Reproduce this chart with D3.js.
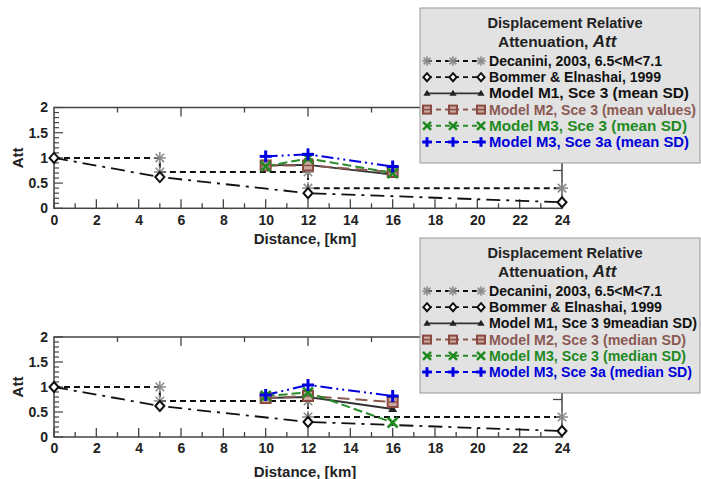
<!DOCTYPE html>
<html><head><meta charset="utf-8">
<script src="https://cdn.jsdelivr.net/npm/d3@7"></script>
<style>body{margin:0;background:#fff}svg{display:block;font-family:"Liberation Sans",Arial,sans-serif;font-weight:bold}</style>
</head><body><svg id="c" width="701" height="479"></svg>
<script>
// ---- data ----
const xTicks = [0,2,4,6,8,10,12,14,16,18,20,22,24];
const yTicks = [0,0.5,1,1.5,2];
const yTickLabels = ["0","0.5","1","1.5","2"];
const decaniniX = [0,5,5,12,12,24];
const decaniniY = [1,1,0.72,0.72,0.4,0.4];
const bommerX = [0,5,12,24];
const bommerY = [1,0.62,0.3,0.12];
const modelX = [10,12,16];
// top panel (mean)
const m1Top = [0.85,0.86,0.67];
const m2Top = [0.85,0.85,0.72];
const m3Top = [0.83,0.99,0.70];
const m3aTop = [1.03,1.07,0.83];
// bottom panel (median)
const m1Bot = [0.78,0.80,0.56];
const m2Bot = [0.78,0.82,0.70];
const m3Bot = [0.82,0.89,0.29];
const m3aBot = [0.84,1.04,0.82];
const legendTitle = ["Displacement Relative","Attenuation, "];
const legendTop = ["Decanini, 2003, 6.5<M<7.1","Bommer & Elnashai, 1999","Model M1, Sce 3 (mean SD)","Model M2, Sce 3 (mean values)","Model M3, Sce 3 (mean SD)","Model M3, Sce 3a (mean SD)"];
const legendBot = ["Decanini, 2003, 6.5<M<7.1","Bommer & Elnashai, 1999","Model M1, Sce 3 9meadian SD)","Model M2, Sce 3 (median SD)","Model M3, Sce 3 (median SD)","Model M3, Sce 3a (median SD)"];
const legendTopW = [173,172,200,207,198,200];
const legendBotW = [173,173,208,197,197,203];

const styles = [
  {stroke:"#111", dash:"6,4", w:2, marker:"star", mc:"#888", text:"#111"},
  {stroke:"#111", dash:"14,6,3,6", w:1.8, marker:"diamond", mc:"#111", text:"#111"},
  {stroke:"#333", dash:null, w:1.8, marker:"tri", mc:"#222", text:"#111"},
  {stroke:"#8a5a52", dash:"12,6", w:2, marker:"square", mc:"#8a4a40", text:"#8a5a52"},
  {stroke:"#2a8a2a", dash:"9,4", w:2, marker:"x", mc:"#1f8a1f", text:"#1f8a1f"},
  {stroke:"#0000e0", dash:"12,4,2,4,2,4", w:2, marker:"plus", mc:"#0000e0", text:"#0000d8"}
];

const svg = d3.select("#c");
svg.append("rect").attr("width",701).attr("height",479).attr("fill","#fff");

function marker(g, type, cx, cy, color, k){
  const s = 5*(k||1);
  if(type==="star"){
    const p = g.append("g").attr("stroke",color).attr("stroke-width",1.5);
    for(let a=0;a<4;a++){const ang=a*Math.PI/4;
      p.append("line").attr("x1",cx-s*Math.cos(ang)*1.2).attr("y1",cy-s*Math.sin(ang)*1.2)
       .attr("x2",cx+s*Math.cos(ang)*1.2).attr("y2",cy+s*Math.sin(ang)*1.2);}
  } else if(type==="diamond"){
    g.append("path").attr("d",`M${cx},${cy-s}L${cx+s*0.9},${cy}L${cx},${cy+s}L${cx-s*0.9},${cy}Z`)
     .attr("fill","#fff").attr("stroke",color).attr("stroke-width",2);
  } else if(type==="tri"){
    g.append("path").attr("d",`M${cx},${cy-s*0.9}L${cx+s*0.9},${cy+s*0.6}L${cx-s*0.9},${cy+s*0.6}Z`).attr("fill",color);
  } else if(type==="square"){
    g.append("rect").attr("x",cx-s).attr("y",cy-s).attr("width",2*s).attr("height",2*s)
     .attr("fill","#c8a8a0").attr("stroke",color).attr("stroke-width",2);
    g.append("line").attr("x1",cx-s+1).attr("x2",cx+s-1).attr("y1",cy).attr("y2",cy).attr("stroke",color).attr("stroke-width",1.5);
  } else if(type==="x"){
    const p=g.append("g").attr("stroke",color).attr("stroke-width",2.5);
    p.append("line").attr("x1",cx-s).attr("y1",cy-s).attr("x2",cx+s).attr("y2",cy+s);
    p.append("line").attr("x1",cx-s).attr("y1",cy+s).attr("x2",cx+s).attr("y2",cy-s);
  } else if(type==="plus"){
    const p=g.append("g").attr("stroke",color).attr("stroke-width",3);
    p.append("line").attr("x1",cx-s*1.2).attr("y1",cy).attr("x2",cx+s*1.2).attr("y2",cy);
    p.append("line").attr("x1",cx).attr("y1",cy-s*1.2).attr("x2",cx).attr("y2",cy+s*1.2);
  }
}

function panel(y0px, y2px, models, legendTexts, legendW, legY, labOff, titleOff){
  const x = d3.scaleLinear().domain([0,24]).range([54,562]);
  const y = d3.scaleLinear().domain([0,2]).range([y0px,y2px]);
  const g = svg.append("g");
  g.append("rect").attr("x",54).attr("y",y2px).attr("width",508).attr("height",y0px-y2px)
   .attr("fill","none").attr("stroke","#444").attr("stroke-width",1.5);
  d3.range(0,25,1).forEach(v=>{
    g.append("line").attr("x1",x(v)).attr("x2",x(v)).attr("y1",y0px).attr("y2",y0px-(v%2===0?9:5))
     .attr("stroke","#444").attr("stroke-width",1.3);
  });
  d3.range(3,25,3).forEach(v=>{
    g.append("line").attr("x1",x(v)).attr("x2",x(v)).attr("y1",y2px).attr("y2",y2px+(v%6===0?9:5))
     .attr("stroke","#444").attr("stroke-width",1.3);
  });
  d3.range(0,2.01,0.1).forEach(v=>{
    const major = Math.abs(v*2-Math.round(v*2))<1e-6;
    g.append("line").attr("x1",54).attr("x2",54+(major?9:5)).attr("y1",y(v)).attr("y2",y(v))
     .attr("stroke","#444").attr("stroke-width",1.2);
  });
  [0.75,1.5].forEach(v=>{
    g.append("line").attr("x1",562).attr("x2",553).attr("y1",y(v)).attr("y2",y(v)).attr("stroke","#444").attr("stroke-width",1.3);
  });
  const xa = d3.axisBottom(x).tickValues(xTicks).tickSize(0).tickPadding(0);
  const xg = g.append("g").attr("transform",`translate(0,${y0px+labOff})`).call(xa);
  xg.select(".domain").remove();
  xg.selectAll("text").attr("font-size",14).attr("font-weight","bold").attr("fill","#222").attr("font-family","Liberation Sans, Arial").attr("dy","0.71em");
  const ya = d3.axisLeft(y).tickValues(yTicks).tickFormat((d,i)=>yTickLabels[i]).tickSize(0).tickPadding(0);
  const yg = g.append("g").attr("transform",`translate(48,0)`).call(ya);
  yg.select(".domain").remove();
  yg.selectAll("text").attr("font-size",14).attr("font-weight","bold").attr("fill","#222").attr("font-family","Liberation Sans, Arial");
  g.append("text").attr("transform",`translate(23,${(y0px+y2px)/2}) rotate(-90)`).attr("text-anchor","middle")
   .attr("font-size",15).attr("fill","#222").text("Att");
  g.append("text").attr("x",305).attr("y",y0px+titleOff).attr("text-anchor","middle").attr("font-size",15).attr("fill","#222").text("Distance, [km]");

  const line = d3.line().x(d=>x(d[0])).y(d=>y(d[1]));
  const series = [
    d3.zip(decaniniX,decaniniY), d3.zip(bommerX,bommerY),
    ...models.map(m=>d3.zip(modelX,m))
  ];
  series.forEach((pts,i)=>{
    const st=styles[i];
    g.append("path").attr("d",line(pts)).attr("fill","none").attr("stroke",st.stroke)
     .attr("stroke-width",st.w).attr("stroke-dasharray",st.dash);
  });
  series.forEach((pts,i)=>{
    const st=styles[i];
    const ptsM = i===0 ? pts.filter((p,k)=>k>0) : pts;
    ptsM.forEach(p=>marker(g,st.marker,x(p[0]),y(p[1]),st.mc));
  });

  const L = svg.append("g");
  L.append("rect").attr("x",420).attr("y",legY).attr("width",280).attr("height",155)
   .attr("fill","#e2e2e2").attr("stroke","#999").attr("stroke-width",1);
  L.append("text").attr("x",565).attr("y",legY+20).attr("text-anchor","middle").attr("font-size",15.5).attr("fill","#222")
   .attr("textLength",155).attr("lengthAdjust","spacingAndGlyphs").text(legendTitle[0]);
  const t2 = L.append("text").attr("x",498).attr("y",legY+39).attr("font-size",15.5).attr("fill","#222");
  t2.append("tspan").text(legendTitle[1]);
  t2.append("tspan").attr("font-style","italic").attr("font-size",17).text("Att");
  legendTexts.forEach((t,i)=>{
    const st=styles[i];
    const cy = legY+53+i*16.2;
    L.append("line").attr("x1",427).attr("x2",481).attr("y1",cy).attr("y2",cy).attr("stroke",st.stroke)
     .attr("stroke-width",st.w).attr("stroke-dasharray",st.dash?"5,4":null);
    [427,453,481].forEach(px=>marker(L,st.marker,px,cy,st.mc,0.8));
    L.append("text").attr("x",489).attr("y",cy+5).attr("font-size",14.5).attr("fill",st.text)
     .attr("textLength",legendW[i]).attr("lengthAdjust","spacingAndGlyphs").text(t);
  });
}

panel(208.3,107.5,[m1Top,m2Top,m3Top,m3aTop],legendTop,legendTopW,8,7,36);
panel(437,337,[m1Bot,m2Bot,m3Bot,m3aBot],legendBot,legendBotW,238,6,40);
</script></body></html>
